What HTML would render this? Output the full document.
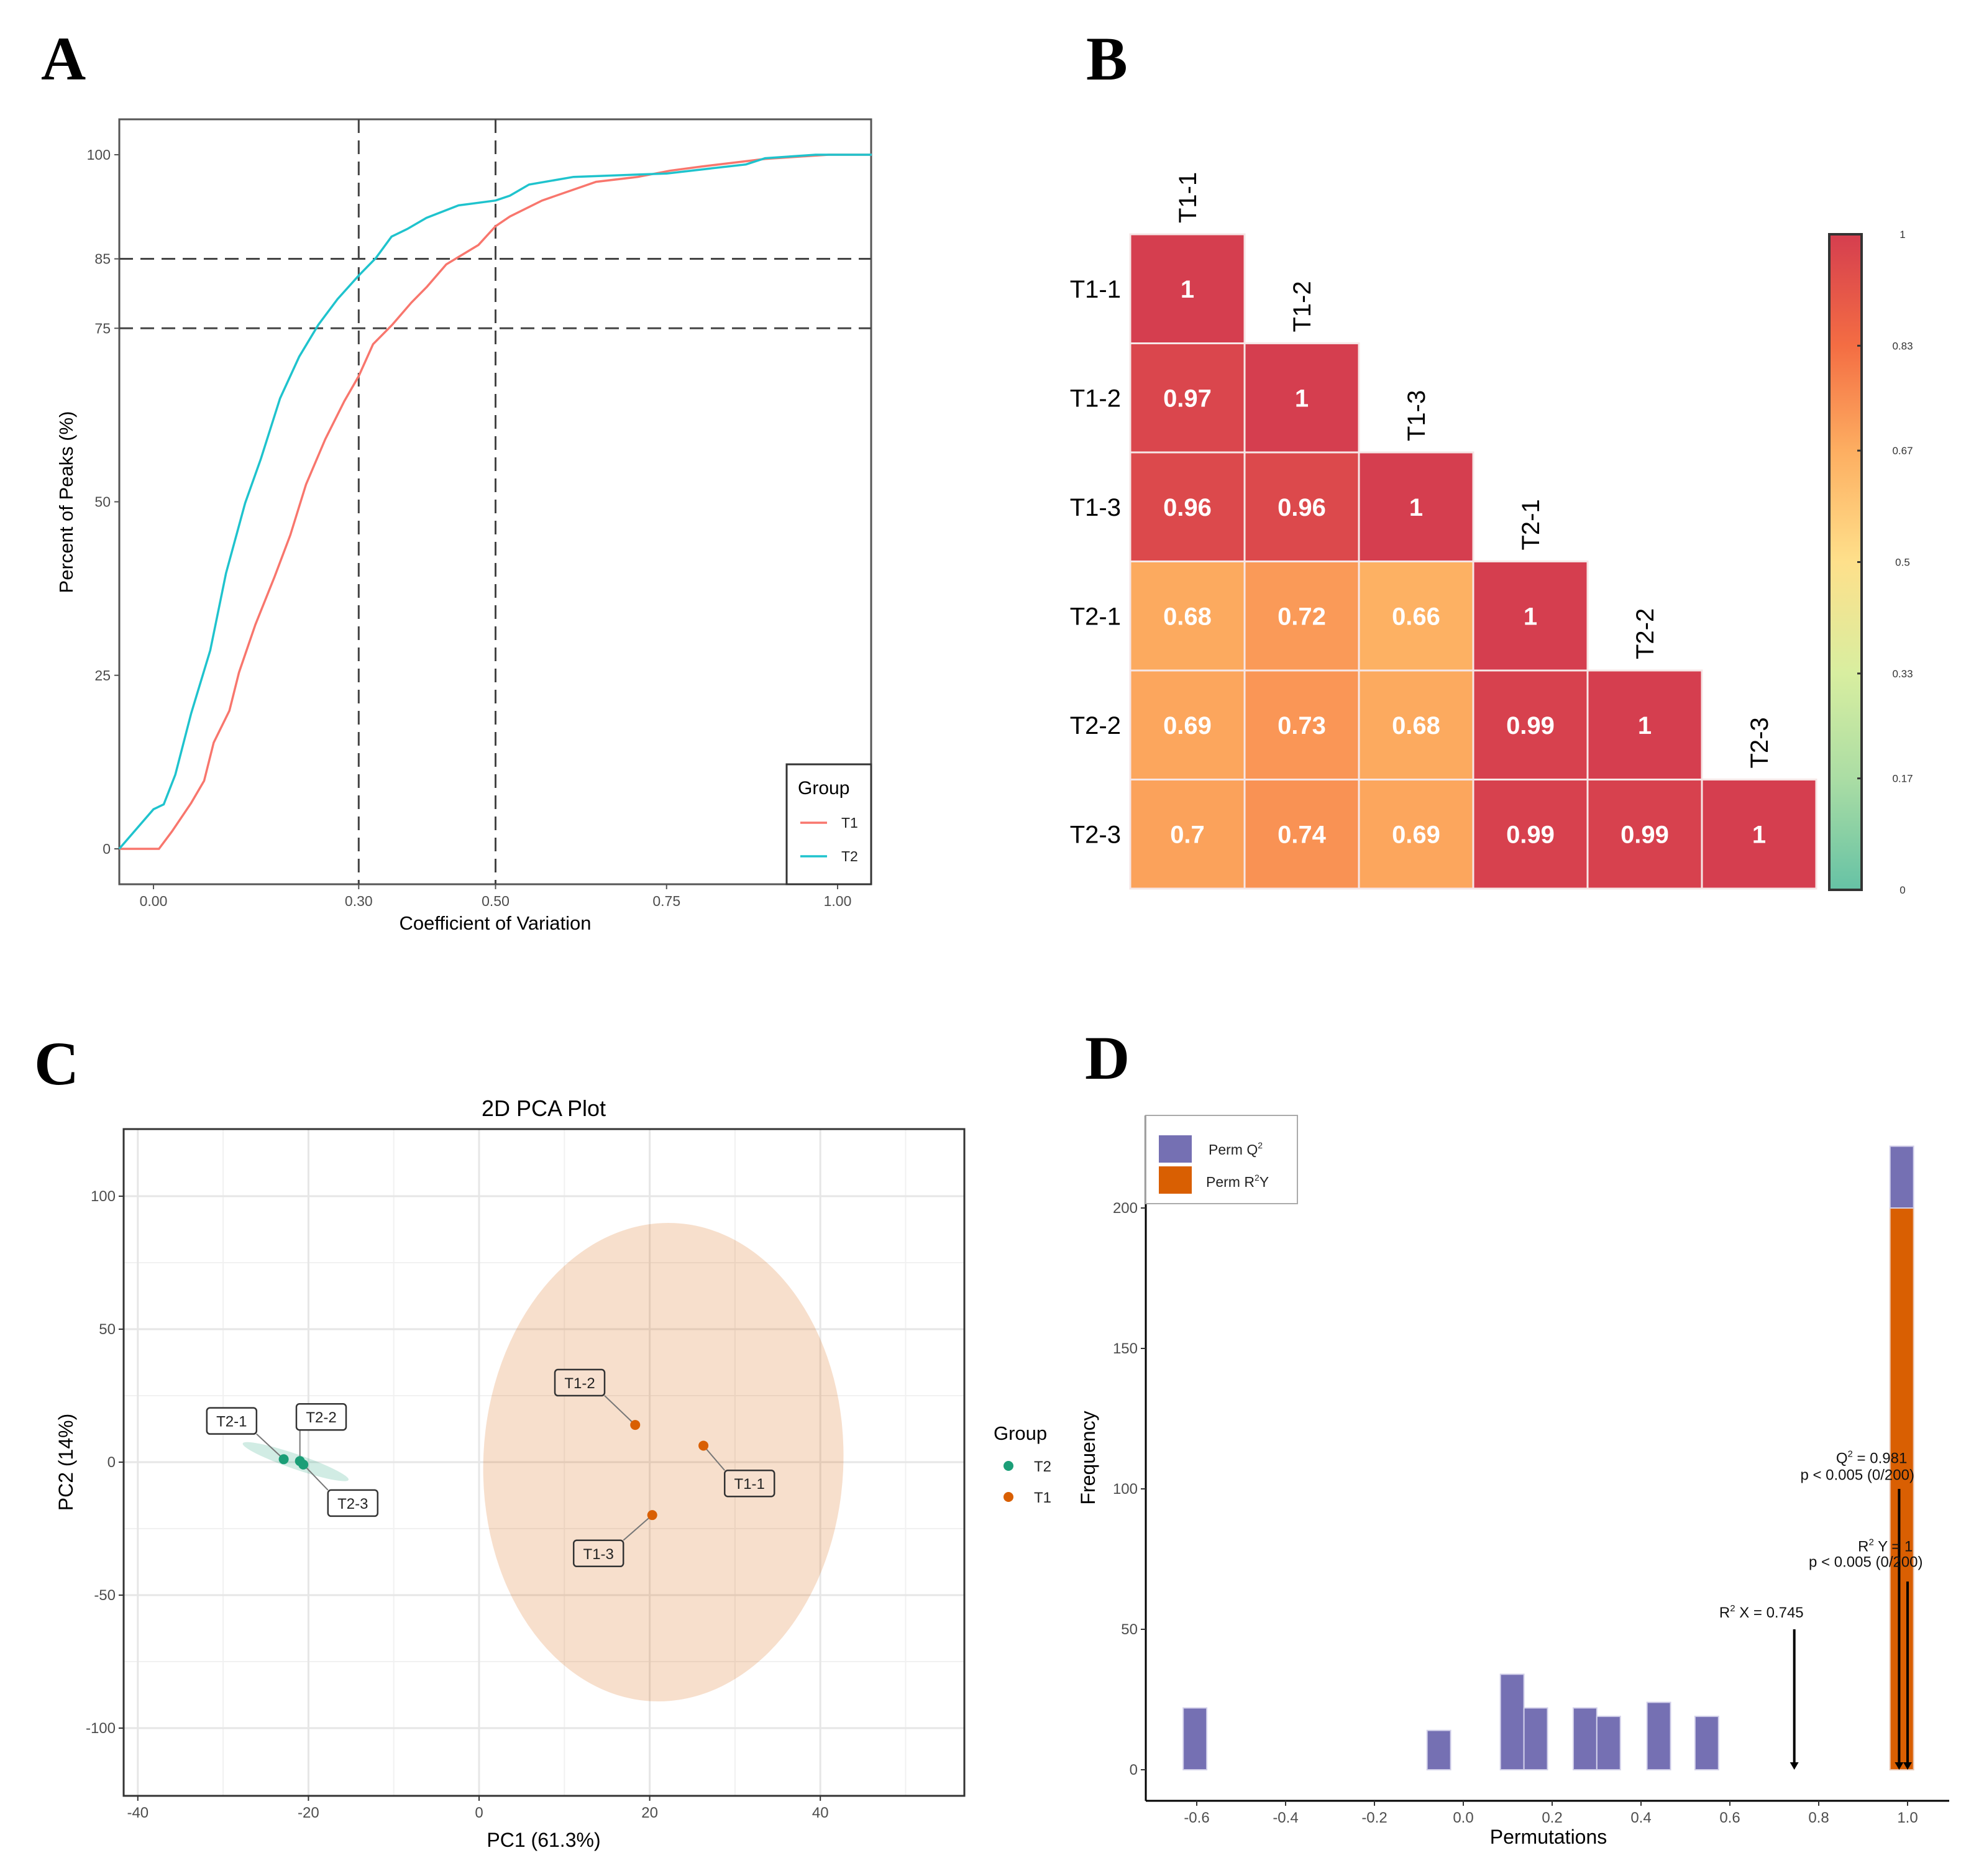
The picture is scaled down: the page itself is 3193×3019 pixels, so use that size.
<!DOCTYPE html>
<html><head><meta charset="utf-8"><style>
html,body{margin:0;padding:0;background:#fff;}
svg{display:block;font-family:"Liberation Sans",sans-serif;}
</style></head><body>
<svg id="fig" xmlns="http://www.w3.org/2000/svg" width="3193" height="3019" viewBox="0 0 3193 3019">
<rect x="0" y="0" width="3193" height="3019" fill="#fff"/>
<g font-family="Liberation Serif, serif" font-weight="bold" font-size="100" fill="#000">
<text x="66" y="128">A</text>
<text x="1748" y="128">B</text>
<text x="55" y="1745">C</text>
<text x="1746" y="1736">D</text>
</g>
<g id="pa"></g>
<g id="pb"></g>
<g id="pc"></g>
<g id="pd"></g>
</svg>
<script>
// ---------- Panel A data ----------
const cvT1X = [-0.05,0.008,0.027,0.055,0.074,0.088,0.111,0.125,0.149,0.177,0.200,0.223,0.251,0.279,0.30,0.321,0.349,0.377,0.400,0.428,0.475,0.50,0.521,0.568,0.647,0.708,0.755,0.801,0.894,0.987,1.05];
const cvT1Y = [0,0,2.5,6.6,9.8,15.3,19.9,25.4,32.3,39.2,45.2,52.5,59,64.5,68.1,72.7,75.5,78.7,81.0,84.2,87.0,89.7,91.1,93.4,96.1,96.8,97.7,98.3,99.4,100,100];
const cvT2X = [-0.05,0.0,0.015,0.032,0.055,0.083,0.106,0.134,0.157,0.185,0.213,0.241,0.269,0.30,0.325,0.348,0.371,0.399,0.446,0.50,0.521,0.549,0.614,0.75,0.866,0.894,0.968,1.05];
const cvT2Y = [0,5.7,6.4,10.7,19.5,28.6,39.7,49.8,56.2,64.9,70.9,75.5,79.2,82.6,85.1,88.2,89.3,90.9,92.7,93.4,94.1,95.7,96.8,97.3,98.6,99.5,100,100];
const aXTicks = [0,0.30,0.50,0.75,1.00];
const aXTickLabels = ["0.00","0.30","0.50","0.75","1.00"];
const aYTicks = [0,25,50,75,85,100];
const aVLines = [0.30,0.50];
const aHLines = [75,85];

// ---------- Panel B data ----------
const bLabels = ["T1-1","T1-2","T1-3","T2-1","T2-2","T2-3"];
const bRows = [
 [1],
 [0.97,1],
 [0.96,0.96,1],
 [0.68,0.72,0.66,1],
 [0.69,0.73,0.68,0.99,1],
 [0.7,0.74,0.69,0.99,0.99,1]
];
const bBarTicks = [0,0.17,0.33,0.5,0.67,0.83,1];

// ---------- Panel C data ----------
const pcaNames = ["T2-1","T2-2","T2-3","T1-1","T1-2","T1-3"];
const pcaGroup = ["T2","T2","T2","T1","T1","T1"];
const pcaX = [-22.9,-21.0,-20.6,26.3,18.3,20.3];
const pcaY = [1.1,0.4,-0.9,6.2,14.0,-19.9];
const pcaLabelX = [-29.0,-18.5,-14.8,31.7,11.8,14.0];
const pcaLabelY = [15.5,17.0,-15.4,-8.0,29.9,-34.3];
const cXTicks = [-40,-20,0,20,40];
const cYTicks = [-100,-50,0,50,100];

// ---------- Panel D data ----------
const permBinCenters = [-0.604,-0.055,0.11,0.163,0.274,0.327,0.44,0.548,0.987];
const permQ2Counts = [22,14,34,22,22,19,24,19,22];
const permR2YCounts = [0,0,0,0,0,0,0,0,200];
const dXTicks = [-0.6,-0.4,-0.2,0.0,0.2,0.4,0.6,0.8,1.0];
const dYTicks = [0,50,100,150,200];
const r2xValue = 0.745, q2Value = 0.981, r2yValue = 1.0;

const NS="http://www.w3.org/2000/svg";
function mk(parent,tag,attrs,txt){const e=document.createElementNS(NS,tag);for(const k in attrs)e.setAttribute(k,attrs[k]);if(txt!==undefined)e.textContent=txt;parent.appendChild(e);return e;}

// ================= Panel A =================
(function(){
const g=document.getElementById('pa');
const xA=v=>247+v*1101, yA=p=>1366-p*11.17;
let e;
e=mk(g,'rect',{x:192,y:192,width:1210,height:1231,fill:'#fff',stroke:'#555','stroke-width':3});
 
aXTicks.forEach((t,i)=>{
  e=mk(g,'line',{x1:xA(t),x2:xA(t),y1:1423,y2:1431,stroke:'#555','stroke-width':2});
   
  e=mk(g,'text',{x:xA(t),y:1458,'font-size':23,fill:'#4d4d4d','text-anchor':'middle'},aXTickLabels[i]);
   
});
aYTicks.forEach(t=>{
  e=mk(g,'line',{x1:184,x2:192,y1:yA(t),y2:yA(t),stroke:'#555','stroke-width':2});
   
  e=mk(g,'text',{x:178,y:yA(t)+8,'font-size':23,fill:'#4d4d4d','text-anchor':'end'},String(t));
   
});
aVLines.forEach(v=>{
  e=mk(g,'line',{x1:xA(v),x2:xA(v),y1:192,y2:1423,stroke:'#444','stroke-width':3,'stroke-dasharray':'22,12'});
   
});
aHLines.forEach(v=>{
  e=mk(g,'line',{x1:192,x2:1402,y1:yA(v),y2:yA(v),stroke:'#444','stroke-width':3,'stroke-dasharray':'22,12'});
   
});
function path(xs,ys){return xs.map((x,i)=>(i?'L':'M')+xA(x).toFixed(1)+','+yA(ys[i]).toFixed(1)).join(' ');}
e=mk(g,'path',{d:path(cvT1X,cvT1Y),fill:'none',stroke:'#F8766D','stroke-width':3.5});
 
e=mk(g,'path',{d:path(cvT2X,cvT2Y),fill:'none',stroke:'#1FC3CD','stroke-width':3.5});
 
e=mk(g,'text',{x:797,y:1496,'font-size':31,fill:'#000','text-anchor':'middle'},'Coefficient of Variation');
 
e=mk(g,'text',{x:0,y:0,'font-size':31,fill:'#000','text-anchor':'middle',transform:'translate(117,808) rotate(-90)'},'Percent of Peaks (%)');
 
const lg=mk(g,'g',{});
 
mk(lg,'rect',{x:1266,y:1230,width:136,height:193,fill:'#fff',stroke:'#333','stroke-width':3});
e=mk(lg,'text',{x:1284,y:1278,'font-size':30,fill:'#000'},'Group');
 
[['T1','#F8766D',1324],['T2','#1FC3CD',1378]].forEach(d=>{
  e=mk(lg,'line',{x1:1288,x2:1331,y1:d[2],y2:d[2],stroke:d[1],'stroke-width':3.5});
   
  e=mk(lg,'text',{x:1354,y:d[2]+8,'font-size':23,fill:'#222'},d[0]);
   
});
})();

// ================= Panel B =================
(function(){
const g=document.getElementById('pb');
const x0=1819,y0=377,cw=184,ch=175.5;
const stops=[[0,[102,194,165]],[0.17,[171,221,164]],[0.33,[216,238,160]],[0.5,[254,224,139]],[0.67,[253,174,97]],[0.83,[244,109,67]],[1,[213,62,79]]];
function col(v){for(let i=1;i<stops.length;i++){if(v<=stops[i][0]){const a=stops[i-1],b=stops[i];const t=(v-a[0])/(b[0]-a[0]);const c=a[1].map((q,k)=>Math.round(q+(b[1][k]-q)*t));return 'rgb('+c.join(',')+')';}}return 'rgb(213,62,79)';}
let e;
bRows.forEach((row,i)=>{
  row.forEach((v,j)=>{
    e=mk(g,'rect',{x:x0+j*cw,y:y0+i*ch,width:cw,height:ch,fill:col(v),stroke:'#f6e6e6','stroke-width':3});
     
    e=mk(g,'text',{x:x0+(j+0.5)*cw,y:y0+(i+0.5)*ch+14,'font-size':40,'font-weight':'bold',fill:'#fff','text-anchor':'middle'},String(v));
     
  });
  e=mk(g,'text',{x:1804,y:y0+(i+0.5)*ch+14,'font-size':40,fill:'#000','text-anchor':'end'},bLabels[i]);
   
  const cx=x0+(i+0.5)*cw+14, by=y0+i*ch-18;
  e=mk(g,'text',{x:0,y:0,'font-size':40,fill:'#000','text-anchor':'start',transform:'translate('+cx+','+by+') rotate(-90)'},bLabels[i]);
   
});
const defs=mk(g,'defs',{});
const lgd=mk(defs,'linearGradient',{id:'cbar',x1:0,y1:1,x2:0,y2:0});
stops.forEach(s=>mk(lgd,'stop',{offset:s[0],'stop-color':col(s[0])}));
const by0=377,by1=1432,bx=2944,bw=52;
e=mk(g,'rect',{x:bx,y:by0,width:bw,height:by1-by0,fill:'url(#cbar)',stroke:'#333','stroke-width':4});
 
bBarTicks.forEach(t=>{
  const y=by1-t*(by1-by0);
  mk(g,'line',{x1:bx+bw-7,x2:bx+bw,y1:y,y2:y,stroke:'#333','stroke-width':3});
  e=mk(g,'text',{x:3062,y:y+6,'font-size':17,fill:'#333','text-anchor':'middle'},String(t));
   
});
})();

// ================= Panel C =================
(function(){
const g=document.getElementById('pc');
const xC=v=>771+v*13.73, yC=v=>2353-v*4.28;
const L=199,R=1552,T=1817,B=2890;
let e;
e=mk(g,'rect',{x:L,y:T,width:R-L,height:B-T,fill:'#fff'});
 
for(let v=-30;v<=50;v+=20){e=mk(g,'line',{x1:xC(v),x2:xC(v),y1:T,y2:B,stroke:'#f1f1f1','stroke-width':2});}
for(let v=-75;v<=75;v+=50){e=mk(g,'line',{x1:L,x2:R,y1:yC(v),y2:yC(v),stroke:'#f1f1f1','stroke-width':2});}
cXTicks.forEach(v=>{e=mk(g,'line',{x1:xC(v),x2:xC(v),y1:T,y2:B,stroke:'#e6e6e6','stroke-width':3});});
cYTicks.forEach(v=>{e=mk(g,'line',{x1:L,x2:R,y1:yC(v),y2:yC(v),stroke:'#e6e6e6','stroke-width':3});});
e=mk(g,'ellipse',{cx:xC(21.6),cy:yC(0),rx:21.1*13.73,ry:90*4.28,fill:'#D95F02','fill-opacity':0.2,transform:'rotate(2.7 '+xC(21.6)+' '+yC(0)+')'});
 
const mx=(pcaX[0]+pcaX[1]+pcaX[2])/3,my=(pcaY[0]+pcaY[1]+pcaY[2])/3;
e=mk(g,'ellipse',{cx:xC(mx),cy:yC(my),rx:90,ry:12,fill:'#1B9E77','fill-opacity':0.2,transform:'rotate(19 '+xC(mx)+' '+yC(my)+')'});
 
pcaNames.forEach((n,i)=>{
  const px=xC(pcaX[i]),py=yC(pcaY[i]),lx=xC(pcaLabelX[i]),ly=yC(pcaLabelY[i]);
  const bw=80,bh=42;
  const ex=Math.max(lx-bw/2,Math.min(px,lx+bw/2)), ey=Math.max(ly-bh/2,Math.min(py,ly+bh/2));
  e=mk(g,'line',{x1:px,y1:py,x2:ex,y2:ey,stroke:'#777','stroke-width':2});
   
  e=mk(g,'circle',{cx:px,cy:py,r:8,fill:pcaGroup[i]=='T2'?'#1B9E77':'#D95F02'});
   
  e=mk(g,'rect',{x:lx-bw/2,y:ly-bh/2,width:bw,height:bh,rx:5,fill:pcaGroup[i]=='T2'?'#fff':'#f7e0cf',stroke:'#333','stroke-width':2.5});
   
  e=mk(g,'text',{x:lx,y:ly+9,'font-size':24,fill:'#222','text-anchor':'middle'},n);
   
});
e=mk(g,'rect',{x:L,y:T,width:R-L,height:B-T,fill:'none',stroke:'#333','stroke-width':3});
 
cXTicks.forEach(v=>{
  mk(g,'line',{x1:xC(v),x2:xC(v),y1:B,y2:B+8,stroke:'#333','stroke-width':2});
  e=mk(g,'text',{x:xC(v),y:B+35,'font-size':24,fill:'#4d4d4d','text-anchor':'middle'},String(v));
   
});
cYTicks.forEach(v=>{
  mk(g,'line',{x1:L-8,x2:L,y1:yC(v),y2:yC(v),stroke:'#333','stroke-width':2});
  e=mk(g,'text',{x:L-13,y:yC(v)+8,'font-size':24,fill:'#4d4d4d','text-anchor':'end'},String(v));
   
});
e=mk(g,'text',{x:875,y:1796,'font-size':36,fill:'#000','text-anchor':'middle'},'2D PCA Plot');
 
e=mk(g,'text',{x:875,y:2972,'font-size':32,fill:'#000','text-anchor':'middle'},'PC1 (61.3%)');
 
e=mk(g,'text',{x:0,y:0,'font-size':32,fill:'#000','text-anchor':'middle',transform:'translate(117,2353) rotate(-90)'},'PC2 (14%)');
 
e=mk(g,'text',{x:1599,y:2317,'font-size':31,fill:'#000'},'Group');
 
[['T2','#1B9E77',2359],['T1','#D95F02',2409]].forEach(d=>{
  e=mk(g,'circle',{cx:1623,cy:d[2],r:8,fill:d[1]});
   
  e=mk(g,'text',{x:1664,y:d[2]+9,'font-size':24,fill:'#222'},d[0]);
   
});
})();

// ================= Panel D =================
(function(){
const g=document.getElementById('pd');
const xD=v=>2355+v*715, yD=v=>2848-v*4.52;
const L=1844,R=3137,T=1795,B=2898,bw=0.053;
let e;
permBinCenters.forEach((c,i)=>{
  const x=xD(c-bw/2),w=bw*715;
  if(permR2YCounts[i]>0){
    e=mk(g,'rect',{x:x,y:yD(permR2YCounts[i]),width:w,height:yD(0)-yD(permR2YCounts[i]),fill:'#D95F02',stroke:'#e8c7b5','stroke-width':2});
     
  }
  const base=permR2YCounts[i];
  e=mk(g,'rect',{x:x,y:yD(base+permQ2Counts[i]),width:w,height:yD(base)-yD(base+permQ2Counts[i]),fill:'#7570B3',stroke:'#d3d1ea','stroke-width':2});
   
});
function arrow(v,top,name){
  const x=xD(v);
  e=mk(g,'line',{x1:x,x2:x,y1:yD(top),y2:yD(0)-8,stroke:'#000','stroke-width':4});
   
  mk(g,'path',{d:'M'+(x-7)+','+(yD(0)-12)+' L'+(x+7)+','+(yD(0)-12)+' L'+x+','+yD(0)+' Z',fill:'#000'});
}
arrow(r2xValue,50,'r2x-arrow');
arrow(q2Value,100,'q2-arrow');
arrow(r2yValue,67,'r2y-arrow');
function sup(parent,x,y,pre,supTxt,post,name){
  const t=mk(parent,'text',{x:x,y:y,'font-size':24,fill:'#111','text-anchor':'middle'});
   
  mk(t,'tspan',{},pre);
  mk(t,'tspan',{'font-size':15,dy:-10},supTxt);
  mk(t,'tspan',{dy:10},post);
  return t;
}
sup(g,xD(0.671),yD(56)+8,'R','2',' X = '+r2xValue,'r2x-label');
sup(g,xD(0.919),yD(111)+8,'Q','2',' = '+q2Value,'q2-label');
e=mk(g,'text',{x:xD(0.887),y:yD(105)+8,'font-size':24,fill:'#111','text-anchor':'middle'},'p < 0.005 (0/200)');
 
sup(g,xD(0.95),yD(79.5)+8,'R','2',' Y = 1','r2y-label');
e=mk(g,'text',{x:xD(0.906),y:yD(74)+8,'font-size':24,fill:'#111','text-anchor':'middle'},'p < 0.005 (0/200)');
 
e=mk(g,'line',{x1:L,x2:L,y1:T,y2:B,stroke:'#000','stroke-width':3});
 
e=mk(g,'line',{x1:L,x2:R,y1:B,y2:B,stroke:'#000','stroke-width':3});
 
dXTicks.forEach(v=>{
  mk(g,'line',{x1:xD(v),x2:xD(v),y1:B,y2:B+8,stroke:'#333','stroke-width':2});
  e=mk(g,'text',{x:xD(v),y:B+35,'font-size':24,fill:'#4d4d4d','text-anchor':'middle'},v.toFixed(1));
   
});
dYTicks.forEach(v=>{
  mk(g,'line',{x1:L-8,x2:L,y1:yD(v),y2:yD(v),stroke:'#333','stroke-width':2});
  e=mk(g,'text',{x:L-13,y:yD(v)+8,'font-size':24,fill:'#4d4d4d','text-anchor':'end'},String(v));
   
});
e=mk(g,'text',{x:2492,y:2967,'font-size':32,fill:'#000','text-anchor':'middle'},'Permutations');
 
e=mk(g,'text',{x:0,y:0,'font-size':32,fill:'#000','text-anchor':'middle',transform:'translate(1762,2346) rotate(-90)'},'Frequency');
 
const lg=mk(g,'g',{});
 
mk(lg,'rect',{x:1844,y:1795,width:244,height:142,fill:'#fff',stroke:'#aaa','stroke-width':2});
e=mk(lg,'rect',{x:1865,y:1827,width:53,height:44,fill:'#7570B3'});
 
e=mk(lg,'rect',{x:1865,y:1877,width:53,height:44,fill:'#D95F02'});
 
let t=mk(lg,'text',{x:1945,y:1858,'font-size':23,fill:'#222'});
 
mk(t,'tspan',{},'Perm Q');mk(t,'tspan',{'font-size':14,dy:-10},'2');
t=mk(lg,'text',{x:1941,y:1910,'font-size':23,fill:'#222'});
 
mk(t,'tspan',{},'Perm R');mk(t,'tspan',{'font-size':14,dy:-10},'2');mk(t,'tspan',{dy:10},'Y');
})();
</script>
</body></html>
